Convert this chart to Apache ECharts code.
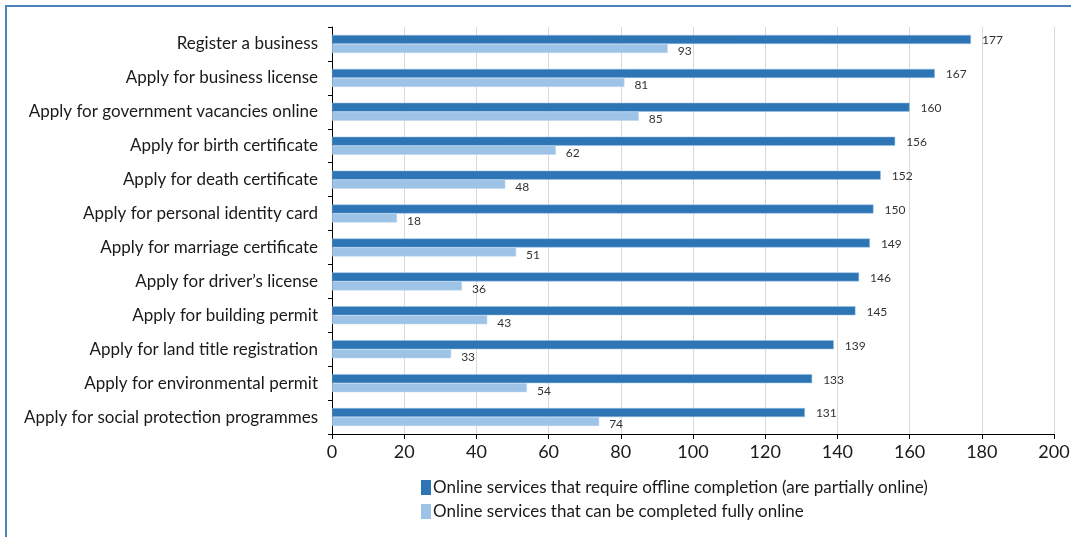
<!DOCTYPE html>
<html>
<head>
<meta charset="utf-8">
<script src="https://cdn.jsdelivr.net/npm/echarts@6/dist/echarts.min.js"></script>
<style>
  html, body { margin: 0; padding: 0; background: #fff; }
  #chart { width: 1071px; height: 537px; }
</style>
</head>
<body>
<div id="chart"></div>
<script>
// services, top to bottom
const services = [
  'Register a business',
  'Apply for business license',
  'Apply for government vacancies online',
  'Apply for birth certificate',
  'Apply for death certificate',
  'Apply for personal identity card',
  'Apply for marriage certificate',
  'Apply for driver\u2019s license',
  'Apply for building permit',
  'Apply for land title registration',
  'Apply for environmental permit',
  'Apply for social protection programmes'
];
const partiallyOnline = [177, 167, 160, 156, 152, 150, 149, 146, 145, 139, 133, 131];
const fullyOnline = [93, 81, 85, 62, 48, 18, 51, 36, 43, 33, 54, 74];
const seriesNames = [
  'Online services that require offline completion (are partially online)',
  'Online services that can be completed fully online'
];

const font = 'Lato';
const chart = echarts.init(document.getElementById('chart'));

chart.setOption({
  animation: false,
  textStyle: { fontFamily: font },
  graphic: [{
    type: 'rect',
    shape: { x: 6, y: 6, width: 1200, height: 700 },
    style: { fill: 'none', stroke: '#4f81bd', lineWidth: 2 },
    silent: true
  }],
  grid: { left: 332, right: 17, top: 27, bottom: 103, outerBoundsMode: 'none' },
  legend: {
    orient: 'vertical',
    left: 416,
    top: 474,
    itemWidth: 10,
    itemHeight: 15,
    itemGap: 7,
    icon: 'rect',
    itemStyle: { borderWidth: 0 },
    textStyle: { fontFamily: font, fontSize: 17, color: '#1a1a1a', padding: [0, 0, 0, -3] },
    data: seriesNames
  },
  xAxis: {
    type: 'value',
    min: 0,
    max: 200,
    interval: 20,
    axisLine: { show: true, lineStyle: { color: '#000', width: 1 } },
    axisTick: { show: true, length: 5, lineStyle: { color: '#000' } },
    axisLabel: { fontFamily: font, fontSize: 18, color: '#1a1a1a', margin: 9 },
    splitLine: { show: true, lineStyle: { color: '#d9d9d9', width: 1 } }
  },
  yAxis: {
    type: 'category',
    inverse: true,
    data: services,
    axisLine: { show: true, lineStyle: { color: '#000', width: 1 } },
    axisTick: { show: true, length: 4, lineStyle: { color: '#000' } },
    axisLabel: { fontFamily: font, fontSize: 17, color: '#1a1a1a', margin: 14 }
  },
  series: [
    {
      name: seriesNames[0],
      type: 'bar',
      data: partiallyOnline,
      barWidth: 9,
      barGap: '0%',
      itemStyle: { color: '#2e75b6', borderColor: '#9dc3e6', borderWidth: 0.5 },
      label: {
        show: true,
        position: 'right',
        distance: 11,
        offset: [0, 1],
        fontFamily: font,
        fontSize: 12,
        color: '#333'
      }
    },
    {
      name: seriesNames[1],
      type: 'bar',
      data: fullyOnline,
      barWidth: 9,
      barGap: '0%',
      itemStyle: { color: '#9dc3e6', borderColor: '#bdd7ee', borderWidth: 0.5 },
      label: {
        show: true,
        position: 'right',
        distance: 10,
        offset: [0, 3],
        fontFamily: font,
        fontSize: 12,
        color: '#333'
      }
    }
  ]
});
</script>
</body>
</html>
